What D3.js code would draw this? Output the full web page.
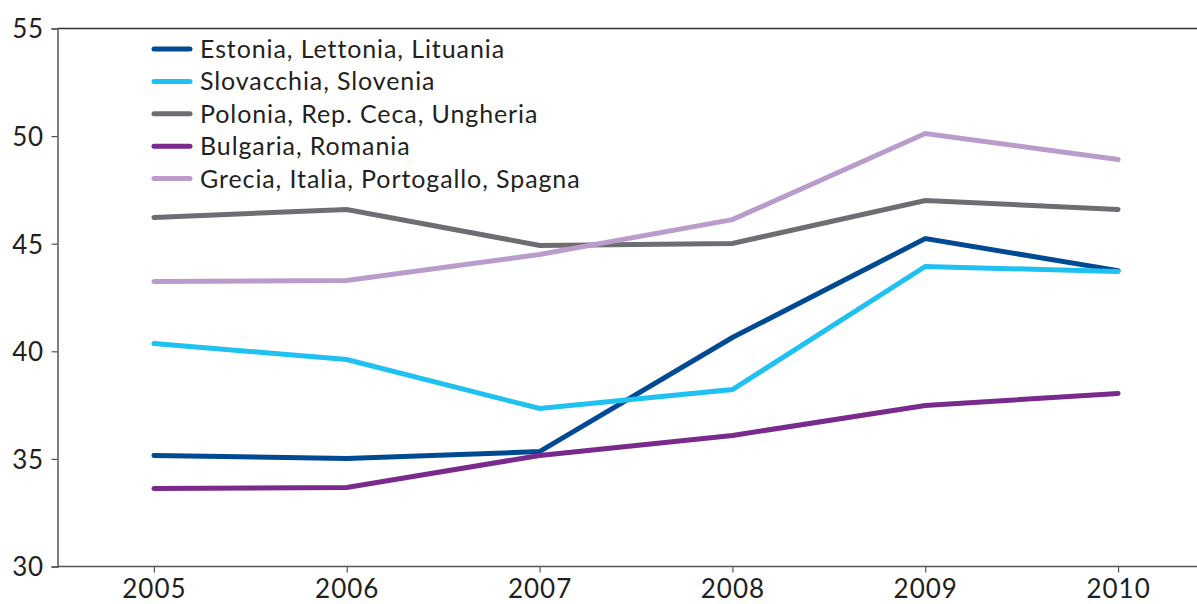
<!DOCTYPE html>
<html><head><meta charset="utf-8">
<script src="https://cdn.jsdelivr.net/npm/d3@7"></script>
<style>body{margin:0;background:#fff;}svg{display:block;}text{font-family:Lato,"Noto Sans",sans-serif;fill:#231f20;}</style>
</head><body><svg id="c" width="1197" height="604"></svg>
<script>
const years = ["2005","2006","2007","2008","2009","2010"];
const seriesNames = ["Estonia, Lettonia, Lituania","Slovacchia, Slovenia","Polonia, Rep. Ceca, Ungheria","Bulgaria, Romania","Grecia, Italia, Portogallo, Spagna"];
const baltici = [35.16, 35.02, 35.34, 40.64, 45.24, 43.75];
const slovacchia = [40.36, 39.62, 37.34, 38.22, 43.94, 43.71];
const polonia = [46.22, 46.59, 44.92, 45.01, 47.01, 46.59];
const bulgaria = [33.62, 33.67, 35.16, 36.09, 37.48, 38.04];
const grecia = [43.24, 43.29, 44.50, 46.12, 50.12, 48.91];
const yTicks = [30, 35, 40, 45, 50, 55];
const colors = ["#004a93","#1ec1f0","#6d6e72","#7a2a8c","#b99ccb"];
const seriesValues = [baltici, slovacchia, polonia, bulgaria, grecia];

(function(){
const svg = d3.select("#c");
const mLeft = 57.5, mTop = 28.5, mBottom = 566.5, mRight = 1214.5;
const x = d3.scalePoint().domain(years).range([mLeft, mRight]).padding(0.5);
const y = d3.scaleLinear().domain([30, 55]).range([mBottom, mTop]);

// top border
svg.append("line").attr("x1", mLeft).attr("x2", 1197).attr("y1", mTop).attr("y2", mTop)
  .attr("stroke", "#333").attr("stroke-width", 1.5);

// y axis
const ya = svg.append("g").attr("transform", `translate(${mLeft},0)`)
  .call(d3.axisLeft(y).tickValues(yTicks).tickSize(6).tickPadding(8));
ya.select(".domain").attr("stroke", "#555").attr("stroke-width", 1.5);
ya.selectAll(".tick line").attr("stroke", "#555").attr("stroke-width", 1.2);
ya.selectAll("text").attr("font-size", 26).attr("dy", "0.36em").attr("letter-spacing", 0.5)
  .attr("font-family", "Lato, 'Noto Sans', sans-serif").style("fill", "#231f20");

// x axis
const xa = svg.append("g").attr("transform", `translate(0,${mBottom})`)
  .call(d3.axisBottom(x).tickSize(6).tickPadding(6).tickSizeOuter(0));
xa.select(".domain").attr("d", `M${mLeft},0H1197`).attr("stroke", "#555").attr("stroke-width", 1.5);
xa.selectAll(".tick line").attr("stroke", "#555").attr("stroke-width", 1.2);
xa.selectAll("text").attr("font-size", 26).attr("dy", "0.76em").attr("letter-spacing", 1)
  .attr("font-family", "Lato, 'Noto Sans', sans-serif").style("fill", "#231f20");

// lines
const line = d3.line().x((d, i) => x(years[i])).y(d => y(d));
seriesValues.forEach((vals, k) => {
  svg.append("path").datum(vals).attr("d", line)
    .attr("fill", "none").attr("stroke", colors[k]).attr("stroke-width", 5)
    .attr("stroke-linejoin", "miter").attr("stroke-linecap", "round");
});

// legend
const lg = svg.append("g");
seriesNames.forEach((name, k) => {
  const yy = 49 + k * 32.4;
  lg.append("line").attr("x1", 154).attr("x2", 190).attr("y1", yy).attr("y2", yy)
    .attr("stroke", colors[k]).attr("stroke-width", 5).attr("stroke-linecap", "round");
  lg.append("text").attr("x", 200).attr("y", yy).attr("dy", "0.36em")
    .attr("font-size", 25).attr("letter-spacing", 0.9).text(name);
});
})();
</script></body></html>
